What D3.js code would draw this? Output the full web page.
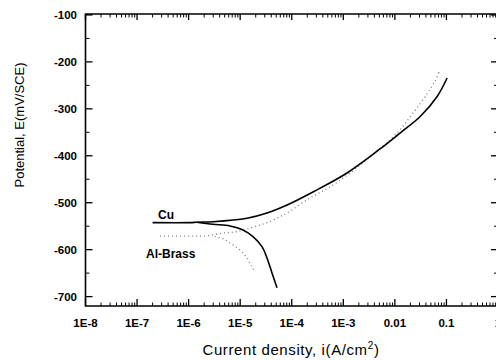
<!DOCTYPE html>
<html>
<head>
<meta charset="utf-8">
<script src="https://cdn.jsdelivr.net/npm/d3@7"></script>
<style>
  body { margin: 0; background: #fff; }
  svg { display: block; font-family: Arial, "Liberation Sans", sans-serif; }
</style>
</head>
<body>
<svg id="chart" width="496" height="360"></svg>
<script>
// tick labels
const xTickValues = [1e-8, 1e-7, 1e-6, 1e-5, 1e-4, 1e-3, 1e-2, 1e-1, 1];
const xTickLabels = ["1E-8", "1E-7", "1E-6", "1E-5", "1E-4", "1E-3", "0.01", "0.1", "1"];
const yTickValues = [-700, -600, -500, -400, -300, -200, -100];

// Cu curve [i (A/cm2), E (mV)]
const cuAnodic = [
    [2.0e-7, -542.5], [1.07e-6, -542.5], [1.45e-6, -541.5], [2.97e-6, -540.4],
    [1.355e-5, -533.1], [3.31e-5, -521.9], [8.1e-5, -504.8], [2.58e-4, -477],
    [1.18e-3, -436.7], [5.15e-3, -385.5], [0.0126, -351.5], [0.031, -316.3],
    [0.066, -273.7], [0.103, -234.3]
];
const cuCathodic = [
    [1.45e-6, -541.5], [2.97e-6, -545.9], [6.35e-6, -549.5], [1.135e-5, -558],
    [1.77e-5, -572.3], [2.65e-5, -593.6], [3.31e-5, -617.7], [4.14e-5, -649.6],
    [5.18e-5, -681]
];

// Al-Brass curve
const brassAnodic = [
    [2.8e-7, -571], [1.06e-6, -571], [2.27e-6, -570.8], [4.64e-6, -564.5],
    [8.67e-6, -561.7], [2.12e-5, -549.5], [3.31e-5, -542.5], [5.92e-5, -529.7],
    [8.1e-5, -521.9], [2.26e-4, -489.9], [5.5e-4, -466.5], [1.35e-3, -436.7],
    [3.3e-3, -402.6], [0.011, -351.5], [0.0225, -308.9], [0.042, -268.4],
    [0.060, -240.7], [0.072, -221.5]
];
const brassCathodic = [
    [3.2e-6, -572], [4.5e-6, -576], [6.35e-6, -585.8], [9.9e-6, -600.7],
    [1.355e-5, -617.7], [1.69e-5, -636.9], [1.94e-5, -647.5]
];

const svg = d3.select("#chart");
const box = {left: 85.5, right: 498, top: 14, bottom: 306};

const x = d3.scaleLog().domain([1e-8, 1]).range([box.left, box.right]);
const y = d3.scaleLinear().domain([-720, -98]).range([box.bottom, box.top]);

// minor log ticks
const xMinor = [];
for (let p = -8; p < 0; p++) {
    for (let m = 2; m <= 9; m++) xMinor.push(m * Math.pow(10, p));
}
const yMinor = d3.range(-650, -99, 100);

const axisG = svg.append("g");

// frame
axisG.append("path")
    .attr("d", "M" + box.left + "," + box.top + "V" + box.bottom + "H" + box.right + "V" + box.top + "Z")
    .attr("fill", "none").attr("stroke", "#000").attr("stroke-width", 1.6);

function tick(x1, y1, x2, y2, w) {
    axisG.append("line").attr("x1", x1).attr("y1", y1).attr("x2", x2).attr("y2", y2)
        .attr("stroke", "#000").attr("stroke-width", w);
}

// x ticks (bottom and top, inward)
xTickValues.forEach(v => {
    tick(x(v), box.bottom, x(v), box.bottom - 7, 1.3);
    tick(x(v), box.top, x(v), box.top + 6, 1.3);
});
xMinor.forEach(v => {
    tick(x(v), box.bottom, x(v), box.bottom - 3.5, 1);
    tick(x(v), box.top, x(v), box.top + 3.5, 1);
});

// y ticks (left and right, inward)
yTickValues.forEach(v => {
    tick(box.left, y(v), box.left + 7, y(v), 1.3);
    tick(box.right, y(v), box.right - 7, y(v), 1.3);
});
yMinor.forEach(v => {
    tick(box.left, y(v), box.left + 4, y(v), 1);
    tick(box.right, y(v), box.right - 4, y(v), 1);
});

// tick labels
axisG.selectAll(".xl").data(xTickValues).enter().append("text")
    .attr("x", d => x(d)).attr("y", 327)
    .attr("text-anchor", "middle")
    .attr("font-size", "11.5px").attr("font-weight", "bold")
    .text((d, i) => xTickLabels[i]);

axisG.selectAll(".yl").data(yTickValues).enter().append("text")
    .attr("x", 77).attr("y", d => y(d) + 4)
    .attr("text-anchor", "end")
    .attr("font-size", "11.5px").attr("font-weight", "bold")
    .text(d => d);

// axis titles
svg.append("text")
    .attr("x", 291).attr("y", 355)
    .attr("text-anchor", "middle").attr("font-size", "15px")
    .attr("letter-spacing", "0.6px")
    .html('Current density, i(A/cm<tspan dy="-6" font-size="10px">2</tspan><tspan dy="6">)</tspan>');

svg.append("text")
    .attr("transform", "translate(24,125) rotate(-90)")
    .attr("text-anchor", "middle").attr("font-size", "13px")
    .text("Potential, E(mV/SCE)");

// curves
const line = d3.line()
    .x(d => x(d[0]))
    .y(d => y(d[1]))
    .curve(d3.curveCatmullRom.alpha(0.5));

[brassAnodic, brassCathodic].forEach(data => {
    svg.append("path").datum(data)
        .attr("d", line)
        .attr("fill", "none")
        .attr("stroke", "#777")
        .attr("stroke-width", 1.3)
        .attr("stroke-dasharray", "1,3");
});

[cuAnodic, cuCathodic].forEach(data => {
    svg.append("path").datum(data)
        .attr("d", line)
        .attr("fill", "none")
        .attr("stroke", "#000")
        .attr("stroke-width", 1.6);
});

// curve labels
svg.append("text").attr("x", 158).attr("y", 219)
    .attr("font-size", "12px").attr("font-weight", "bold").text("Cu");
svg.append("text").attr("x", 146).attr("y", 258)
    .attr("font-size", "12px").attr("font-weight", "bold").text("Al-Brass");
</script>
</body>
</html>
